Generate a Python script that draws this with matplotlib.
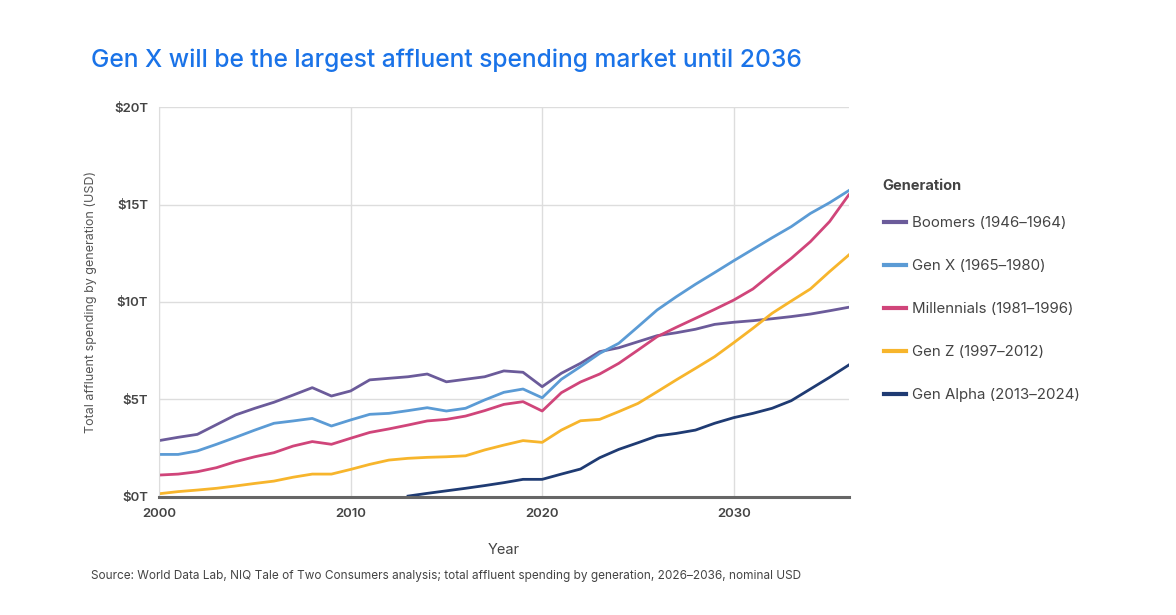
import matplotlib
matplotlib.use("Agg")
import matplotlib.pyplot as plt

plt.rcParams['font.family'] = ['Inter', 'DejaVu Sans']

years = list(range(2000, 2037))
alpha_years = list(range(2013, 2037))

boomers = [2.88, 3.05, 3.2, 3.7, 4.2, 4.54, 4.85, 5.22, 5.6, 5.17, 5.43, 6.0, 6.08, 6.16, 6.3,
           5.9, 6.03, 6.16, 6.46, 6.39, 5.65, 6.34, 6.85, 7.45, 7.65, 7.96, 8.27, 8.42, 8.6,
           8.85, 8.96, 9.04, 9.14, 9.25, 9.38, 9.55, 9.73]
gen_x = [2.17, 2.17, 2.35, 2.69, 3.05, 3.42, 3.77, 3.89, 4.02, 3.63, 3.94, 4.23, 4.28, 4.42, 4.57,
         4.4, 4.54, 4.97, 5.36, 5.53, 5.08, 6.03, 6.68, 7.36, 7.88, 8.73, 9.59, 10.27, 10.91,
         11.51, 12.12, 12.71, 13.3, 13.87, 14.55, 15.1, 15.72]
millennials = [1.11, 1.16, 1.28, 1.49, 1.8, 2.05, 2.26, 2.6, 2.83, 2.69, 3.0, 3.3, 3.48, 3.68, 3.89,
               3.97, 4.14, 4.42, 4.74, 4.88, 4.4, 5.34, 5.89, 6.3, 6.85, 7.53, 8.22, 8.7, 9.16,
               9.62, 10.1, 10.67, 11.47, 12.24, 13.1, 14.13, 15.5]
gen_z = [0.15, 0.26, 0.34, 0.43, 0.55, 0.68, 0.8, 1.0, 1.16, 1.16, 1.4, 1.66, 1.88, 1.97, 2.02,
         2.05, 2.1, 2.4, 2.65, 2.88, 2.79, 3.42, 3.9, 3.97, 4.37, 4.79, 5.39, 6.0, 6.59,
         7.19, 7.91, 8.65, 9.42, 10.05, 10.67, 11.56, 12.41]
gen_alpha = [0.03, 0.17, 0.3, 0.43, 0.57, 0.72, 0.89, 0.89, 1.16, 1.42, 2.0, 2.43, 2.77, 3.12,
             3.25, 3.42, 3.77, 4.06, 4.28, 4.54, 4.93, 5.53, 6.13, 6.76]

labels = ["Boomers (1946\u20131964)", "Gen X (1965\u20131980)", "Millennials (1981\u20131996)",
          "Gen Z (1997\u20132012)", "Gen Alpha (2013\u20132024)"]
colors = ["#6b5b9a", "#5b9bd5", "#d0457a", "#f7b52c", "#1f3b73"]
yticks = [0, 5, 10, 15, 20]
ytick_labels = ["$0T", "$5T", "$10T", "$15T", "$20T"]
xticks = [2000, 2010, 2020, 2030]

fig = plt.figure(figsize=(11.76, 6.15), dpi=100)
ax = fig.add_axes([0.1352, 0.1924, 0.5865, 0.6331])

series = [(years, boomers), (years, gen_x), (years, millennials), (years, gen_z), (alpha_years, gen_alpha)]
for (xs, ys), lab, col in zip(series, labels, colors):
    ax.plot(xs, ys, color=col, lw=2, label=lab, solid_joinstyle="round")

ax.set_xlim(2000, 2036)
ax.set_ylim(0, 20)
ax.set_xticks(xticks)
ax.set_yticks(yticks)
ax.set_yticklabels(ytick_labels)
ax.grid(True, color="#dddddd", lw=1)
ax.set_axisbelow(True)
for s in ["top", "right"]:
    ax.spines[s].set_visible(False)
ax.spines["left"].set_color("#dddddd")
ax.spines["bottom"].set_color("#666666")
ax.spines["bottom"].set_linewidth(2.2)
ax.tick_params(length=0, labelsize=9.5, labelcolor="#444444", pad=8)
for t in ax.get_xticklabels() + ax.get_yticklabels():
    t.set_fontweight("semibold")

ax.set_xlabel("Year", fontsize=10.5, color="#444444", labelpad=16.5)
ax.set_ylabel("Total affluent spending by generation (USD)", fontsize=9, color="#555555", labelpad=12)

fig.text(0.0774, 0.902, "Gen X will be the largest affluent spending market until 2036",
         fontsize=17.7, color="#1a73e8", fontweight="medium", va="center")
fig.text(0.0774, 0.063, "Source: World Data Lab, NIQ Tale of Two Consumers analysis; total affluent spending by generation, 2026\u20132036, nominal USD",
         fontsize=8.5, color="#444444", va="center")

# legend title as separate text so its gap can be set
fig.text(0.75, 0.6976, "Generation", fontsize=10.5, fontweight="bold", color="#444444", va="center")
leg = ax.legend(loc="upper left", bbox_to_anchor=(1.043, 0.7363), frameon=False,
                fontsize=10.8, handlelength=1.45, handletextpad=0.4, labelspacing=1.93,
                borderaxespad=0)
for t in leg.get_texts():
    t.set_color("#444444")
for h in leg.get_lines():
    h.set_linewidth(3)

fig.savefig("out.png", dpi=100)
